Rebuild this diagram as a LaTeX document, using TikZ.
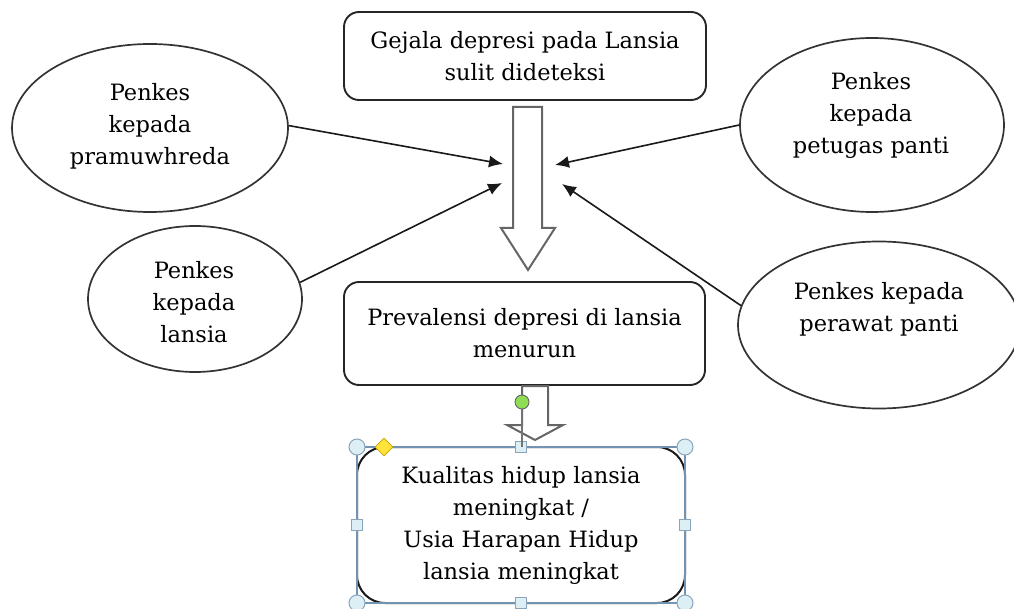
\documentclass[tikz,border=0pt]{standalone}
\usepackage{fontspec}
\setmainfont{DejaVu Serif}
\usetikzlibrary{shapes.geometric,arrows.meta}
\definecolor{framecol}{HTML}{7393B3}
\definecolor{handlefill}{HTML}{DCEFF4}
\definecolor{handledraw}{HTML}{8AA4BA}
\definecolor{diamfill}{HTML}{FFE23A}
\definecolor{diamdraw}{HTML}{C9A400}
\definecolor{rotfill}{HTML}{8EDD55}
\begin{document}
\begin{tikzpicture}[x=1pt,y=-1pt,
  every node/.style={font=\fontsize{22.5}{32}\selectfont, align=center},
  box/.style={draw=black!85, line width=1.9pt, rounded corners=15pt, inner sep=0pt},
  bubble/.style={ellipse, draw=black!80, line width=1.7pt, inner sep=0pt},
  txt/.style={inner sep=0pt},
  link/.style={-{Latex[length=14pt,width=12pt]}, line width=1.6pt, black!90},
  blockarrow/.style={draw=black!60, line width=2pt, fill=white, line join=miter},
  handlecirc/.style={circle, draw=handledraw, fill=handlefill, line width=1pt, minimum size=16pt, inner sep=0pt},
  handlesq/.style={rectangle, draw=handledraw, fill=handlefill, line width=1pt, minimum size=11pt, inner sep=0pt},
]
\useasboundingbox (0,0) rectangle (1014,609);

% boxes
\node[box, minimum width=362pt, minimum height=88pt] (top) at (525,56)
  {Gejala depresi pada Lansia\\sulit dideteksi};
\node[box, minimum width=361pt, minimum height=103pt] (mid) at (524.5,333.5)
  {Prevalensi depresi di lansia\\menurun};

% main block arrow
\draw[blockarrow] (513,107) -- (542,107) -- (542,228) -- (555,228) -- (528,270)
  -- (501,228) -- (513,228) -- cycle;

% small block arrow
\draw[blockarrow] (522,386) -- (548,386) -- (548,425) -- (563,425) -- (535,440)
  -- (507,425) -- (522,425) -- cycle;

% bottom box
\node[box, rounded corners=28pt, line width=2pt, draw=black!90, minimum width=328pt, minimum height=156pt] (bot) at (521,525)
  {Kualitas hidup lansia\\meningkat /\\Usia Harapan Hidup\\lansia meningkat};

% ellipses
\node[bubble, minimum width=276pt, minimum height=168pt] (e1) at (150,128) {};
\node[txt] (t1) at (150,126) {Penkes\\kepada\\pramuwhreda};
\node[bubble, minimum width=214pt, minimum height=146pt] (e2) at (195,299) {};
\node[txt] (t2) at (194,302) {Penkes\\kepada\\lansia};
\node[bubble, minimum width=264pt, minimum height=174pt] (e3) at (872,125) {};
\node[txt] (t3) at (871,115) {Penkes\\kepada\\petugas panti};
\node[bubble, minimum width=282pt, minimum height=167pt] (e4) at (879,325) {};
\node[txt] (t4) at (879,309) {Penkes kepada\\perawat panti};

% arrow tips
\coordinate (p1) at (503,164);
\coordinate (p2) at (555,165);
\coordinate (p3) at (502,183);
\coordinate (p4) at (562,184);

\draw[link] (e1.1) -- (p1);
\draw[link] (e3.180) -- (p2);
\draw[link] (e2.9) -- (p3);
\draw[link] (e4.172) -- (p4);

% selection frame and handles
\draw[framecol, line width=1.3pt] (357,447) rectangle (685,603);
\node[handlecirc] (h1) at (357,447) {};
\node[handlecirc] (h2) at (685,447) {};
\node[handlecirc] (h3) at (357,603) {};
\node[handlecirc] (h4) at (685,603) {};
\node[handlesq] (h5) at (521,447) {};
\node[handlesq] (h6) at (521,603) {};
\node[handlesq] (h7) at (357,525) {};
\node[handlesq] (h8) at (685,525) {};
\node[diamond, draw=diamdraw, fill=diamfill, line width=0.8pt, minimum size=18pt, inner sep=0pt] (hd) at (384,447) {};
\draw[black!55, line width=1.2pt] (522,402) -- (522,447);
\node[circle, draw=black!60, fill=rotfill, line width=0.9pt, minimum size=14pt, inner sep=0pt] (hr) at (522,402) {};
\end{tikzpicture}
\end{document}
